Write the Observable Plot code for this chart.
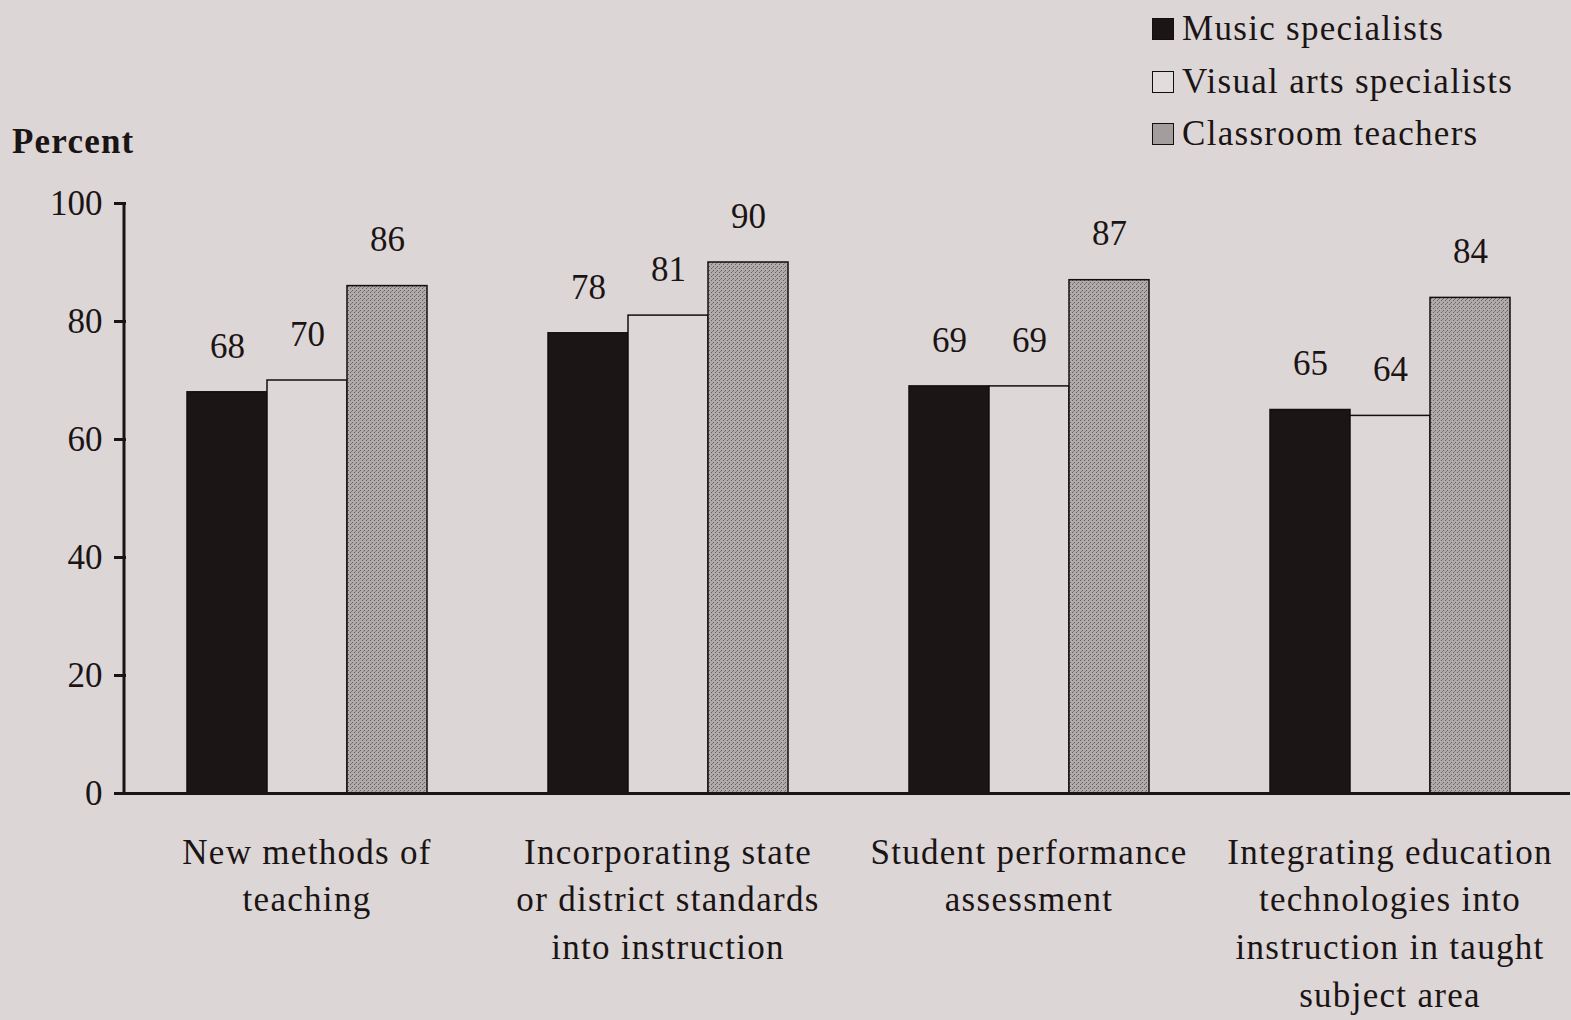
<!DOCTYPE html>
<html><head><meta charset="utf-8">
<script src="https://cdn.jsdelivr.net/npm/d3@7"></script>
<script src="https://cdn.jsdelivr.net/npm/@observablehq/plot@0.6"></script>
<style>
html,body{margin:0;padding:0;background:#ddd6d6;}
#wrap{position:relative;width:1571px;height:1020px;overflow:hidden;font-family:"Liberation Serif",serif;color:#1a1414;}
#chart{position:absolute;left:0;top:0;}
#chart svg g[aria-label="fx-axis tick label"] text{letter-spacing:1.3px;}
#percent{position:absolute;left:12px;top:124px;font-size:35px;font-weight:bold;line-height:36px;letter-spacing:1.2px;}
#legend{position:absolute;left:1152px;top:3px;}
.row{display:flex;align-items:center;height:52.5px;font-size:35px;line-height:40px;letter-spacing:1.3px;}
.sw{width:20px;height:20px;border:1.5px solid #140f0f;margin-right:8px;box-sizing:content-box;}
</style></head><body>
<div id="wrap"><div id="chart"></div><div id="percent">Percent</div><div id="legend"></div></div>
<script>
const categories = [
  "New methods of\nteaching",
  "Incorporating state\nor district standards\ninto instruction",
  "Student performance\nassessment",
  "Integrating education\ntechnologies into\ninstruction in taught\nsubject area"
];
const series = ["Music specialists", "Visual arts specialists", "Classroom teachers"];
const music = [68, 78, 69, 65];
const visual = [70, 81, 69, 64];
const classroom = [86, 90, 87, 84];
const yTicks = [0, 20, 40, 60, 80, 100];
const colors = ["#1b1515", "#ddd7d7", "url(#stipple)"];
const legendColors = ["#1b1515", "#e2dddd", "#a39d9d"];

const values = [music, visual, classroom];
const data = categories.flatMap((c, i) => series.map((s, j) => ({category: c, series: s, value: values[j][i]})));

const plot = Plot.plot({
  width: 1571, height: 1020,
  marginTop: 203, marginBottom: 227, marginLeft: 124, marginRight: 0,
  style: {background: "transparent", fontFamily: "Liberation Serif, serif", color: "#1a1414"},
  fx: {domain: categories, padding: 0, label: null},
  x: {domain: series, paddingInner: 0, paddingOuter: 0.75, axis: null},
  y: {domain: [0, 100], axis: null},
  color: {domain: series, range: colors},
  marks: [
    Plot.barY(data, {fx: "category", x: "series", y: "value", fill: "series", stroke: "#140f0f", strokeWidth: 1.5}),
    Plot.text(data, {fx: "category", x: "series", y: "value", text: d => String(d.value), dy: -46, fontSize: 35, fill: "#1a1414"}),
    Plot.ruleY([0], {stroke: "#1a1414", strokeWidth: 3}),
    Plot.axisY({ticks: yTicks, tickSize: 12, tickPadding: 12, fontSize: 35, strokeWidth: 3, label: null, stroke: "#1a1414"}),
    Plot.axisFx({anchor: "bottom", tickSize: 0, tickPadding: 36, fontSize: 35, lineHeight: 1.37, label: null})
  ]
});

const svg = d3.select(plot);
const defs = svg.insert("defs", ":first-child");
const pat = defs.append("pattern").attr("id", "stipple").attr("width", 4).attr("height", 4).attr("patternUnits", "userSpaceOnUse");
pat.append("rect").attr("width", 4).attr("height", 4).attr("fill", "#b0aaaa");
pat.append("rect").attr("x", 0).attr("y", 0).attr("width", 1).attr("height", 1).attr("fill", "#676060");
pat.append("rect").attr("x", 2).attr("y", 2).attr("width", 1).attr("height", 1).attr("fill", "#676060");
pat.append("rect").attr("x", 1).attr("y", 3).attr("width", 1).attr("height", 1).attr("fill", "#857e7e");

// vertical y-axis line drawn from the library's own scales
const yScale = plot.scale("y");
const fxScale = plot.scale("fx");
const xLeft = fxScale.range[0];
svg.append("line")
  .attr("x1", xLeft).attr("x2", xLeft)
  .attr("y1", yScale.apply(0) + 1.5).attr("y2", yScale.apply(100))
  .attr("stroke", "#1a1414").attr("stroke-width", 3);

document.getElementById("chart").appendChild(plot);

const legend = d3.select("#legend");
series.forEach((s, i) => {
  const row = legend.append("div").attr("class", "row");
  row.append("div").attr("class", "sw").style("background", legendColors[i]);
  row.append("span").text(s);
});
</script>
</body></html>
